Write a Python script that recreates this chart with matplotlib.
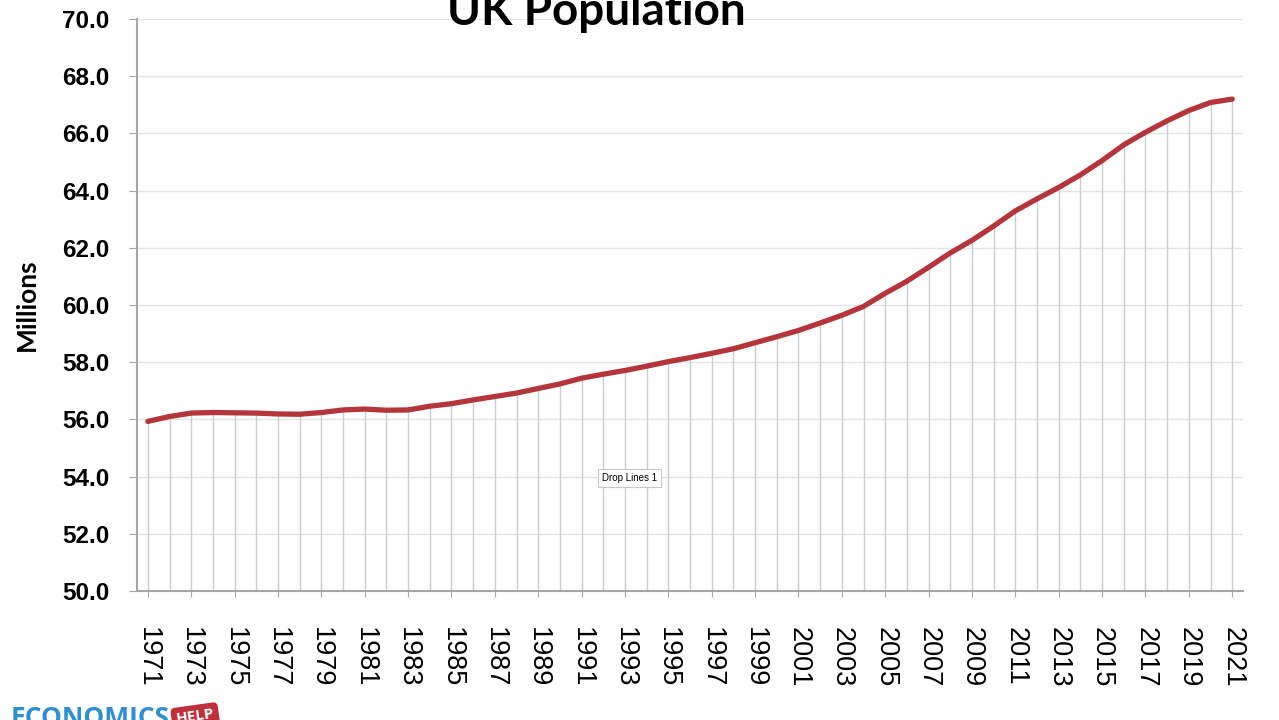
import numpy as np
import matplotlib
matplotlib.use("Agg")
import matplotlib.pyplot as plt

years = list(range(1971, 2022))
population = [55.93, 56.10, 56.22, 56.24, 56.23, 56.22, 56.19, 56.18, 56.24, 56.33,
              56.36, 56.32, 56.33, 56.46, 56.55, 56.68, 56.80, 56.92, 57.08, 57.24,
              57.44, 57.58, 57.71, 57.86, 58.02, 58.16, 58.31, 58.47, 58.68, 58.89,
              59.11, 59.37, 59.64, 59.95, 60.41, 60.83, 61.32, 61.82, 62.26, 62.76,
              63.29, 63.71, 64.11, 64.55, 65.05, 65.60, 66.04, 66.44, 66.80, 67.08,
              67.20]
tick_years = years[::2]
y_ticks = np.arange(50, 70.1, 2)

fig = plt.figure(figsize=(12.79, 7.2), dpi=100, facecolor="white")
ax = fig.add_axes([0.1071, 0.1792, 0.8648, 0.7944])

ax.set_xlim(years[0] - 0.5, years[-1] + 0.5)
ax.set_ylim(50, 70)
ax.set_yticks(y_ticks)
ax.set_yticklabels([f"{v:.1f}" for v in y_ticks], fontfamily="Liberation Sans",
                   fontweight="bold", fontsize=17.5)
ax.set_xticks(tick_years)
ax.set_xticklabels([str(y) for y in tick_years], rotation=-90, fontfamily="Liberation Sans",
                   fontsize=19.5, va="top", ha="center")
ax.tick_params(axis="y", length=6, color="#a6a6a6", pad=14)
ax.tick_params(axis="x", length=4, color="#a6a6a6", pad=22)

ax.grid(axis="y", color="#e3e3e3", linewidth=1)
ax.set_axisbelow(True)
for s in ["top", "right"]:
    ax.spines[s].set_visible(False)
for s in ["left", "bottom"]:
    ax.spines[s].set_color("#a6a6a6")
    ax.spines[s].set_linewidth(1.5)

# drop lines
ax.vlines(years, 50, population, color="#c9ccd3", linewidth=1, zorder=2)
ax.plot(years, population, color="#b5353a", linewidth=3.8, solid_capstyle="round", zorder=3)

ax.set_ylabel("Millions", fontfamily="Lato", fontweight="bold", fontsize=19)
ax.yaxis.set_label_coords(-0.089, 0.5)

fig.text(0.466, 1 - 25 / 720, "UK Population", fontfamily="Lato", fontweight="bold",
         fontsize=33, ha="center", va="baseline")

ax.text(0.4456, 0.198, "Drop Lines 1", transform=ax.transAxes, fontsize=7,
        fontfamily="Liberation Sans", ha="center", va="center",
        bbox=dict(boxstyle="square,pad=0.4", facecolor="white", edgecolor="#c8c8c8", linewidth=0.8),
        zorder=5)

# watermark
fig.text(0.008, 1 - 705 / 720, "ECONOMICS", fontfamily="Open Sans", fontweight="bold",
         fontsize=19, color="#2e8fd3", ha="left", va="top")
fig.text(0.137, 1 - 707 / 720, "HELP", fontfamily="Open Sans", fontweight="bold",
         fontsize=11, color="white", ha="left", va="top", rotation=8,
         bbox=dict(boxstyle="round,pad=0.3", facecolor="#c0303a", edgecolor="none"))

fig.savefig("out.png", dpi=100, facecolor="white")
